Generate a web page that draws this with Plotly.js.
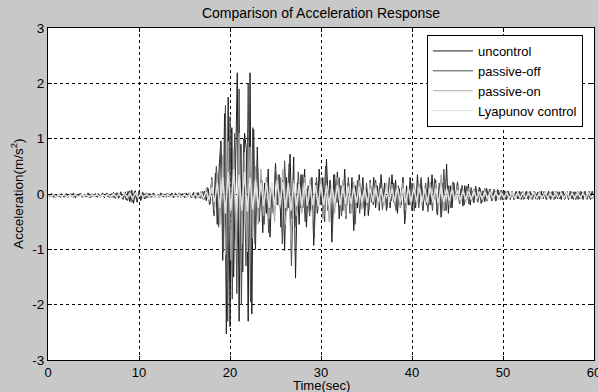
<!DOCTYPE html>
<html>
<head>
<meta charset="utf-8">
<script src="https://cdn.plot.ly/plotly-3.0.1.min.js"></script>
<style>html,body{margin:0;padding:0;background:#c8c8c8;}#chart{width:598px;height:392px;}</style>
</head>
<body>
<div id="chart"></div>
<script>
// sampling steps (s)
const dtUncontrol = 0.2;
const dtPassiveOff = 0.25;
const dtPassiveOn = 0.3;
const dtLyapunov = 0.3;

const seriesNames = ["uncontrol", "passive-off", "passive-on", "Lyapunov control"];

const uncontrol = [
-0.02,-0.05,0.01,-0.06,-0.01, -0.05,0.00,-0.06,-0.02,-0.04, 0.01,-0.06,-0.01,-0.05,0.02, -0.07,0.00,-0.04,0.01,-0.06,
-0.02,-0.05,0.02,-0.07,0.00, -0.05,0.01,-0.06,-0.01,-0.04, 0.02,-0.07,0.01,-0.05,0.00, -0.06,0.03,-0.08,0.02,-0.06,
0.04,-0.09,0.03,-0.11,0.05, -0.14,0.07,-0.17,0.06,-0.15, 0.05,-0.12,0.03,-0.09,0.02, -0.07,0.01,-0.06,0.02,-0.05,
0.00,-0.06,0.02,-0.05,-0.01, -0.06,0.01,-0.05,0.02,-0.07, 0.00,-0.05,0.02,-0.06,0.01, -0.07,0.02,-0.05,0.01,-0.06,
0.03,-0.08,0.02,-0.07,0.04, -0.09,0.05,-0.12,0.10,-0.18, 0.25,-0.35,0.38,-0.55,0.45, 0.96,-1.2,1.45,-2.53,1.75,
-2.4,1.2,-1.5,0.8,2.19, -2.3,0.9,-1.41,1.1,0.8, -2.3,2.19,-2.17,1.17,-1.0, 0.85,-0.5,0.3,-0.7,0.2,
-0.35,0.45,-0.78,0.15,-0.3, 0.55,-0.2,0.35,-0.6,0.25, -1.02,0.3,-0.25,0.72,-0.45, 0.67,-1.52,0.2,-0.55,0.35,
-0.25,0.45,-0.6,0.15,-0.3, 0.3,-0.93,0.2,-0.35,0.45, -0.2,0.3,-0.5,0.63,-0.15, 0.25,-0.87,0.35,-0.2,0.4,
-0.45,0.15,-0.3,0.45,-0.25, 0.2,-0.35,0.3,-0.66,0.15, -0.25,0.35,-0.15,0.3,-0.4, 0.1,-0.39,0.25,-0.15,0.3,
-0.25,0.15,-0.3,0.35,-0.1, 0.2,-0.3,0.1,-0.25,0.35, -0.15,0.25,-0.35,0.1,-0.2, 0.3,-0.54,0.15,-0.2,0.3,
-0.3,0.1,-0.25,0.35,-0.15, 0.25,-0.3,0.1,-0.2,0.3, -0.2,0.35,-0.1,0.25,-0.38, 0.15,-0.42,0.2,-0.3,0.54,
-0.35,0.15,-0.25,0.2,-0.1, 0.22,-0.15,0.1,-0.22,0.15, -0.1,0.18,-0.2,0.05,-0.16, 0.14,-0.08,0.12,-0.17,0.06,
-0.14,0.1,-0.05,0.09,-0.12, 0.04,-0.13,0.08,-0.02,0.07, -0.11,0.06,-0.1,0.05,-0.1, 0.05,-0.1,0.04,-0.09,0.05,
-0.1,0.04,-0.09,0.05,-0.1, 0.04,-0.1,0.05,-0.09,0.03, -0.1,0.05,-0.09,0.04,-0.1, 0.05,-0.09,0.04,-0.1,0.05,
-0.09,0.04,-0.1,0.05,-0.09, 0.04,-0.1,0.05,-0.09,0.04, -0.1,0.05,-0.09,0.04,-0.1, 0.05,-0.09,0.04,-0.1,0.05,
-0.05
];

const passiveOff = [
-0.01,-0.05,0.0,-0.06, -0.02,-0.05,0.01,-0.06, -0.01,-0.05,0.01,-0.06, -0.02,-0.04,0.01,-0.06,
0.0,-0.05,0.01,-0.06, -0.01,-0.05,0.01,-0.06, 0.0,-0.05,0.02,-0.07, 0.01,-0.07,0.02,-0.08,
0.03,-0.1,0.04,-0.12, 0.06,-0.15,0.05,-0.13, 0.04,-0.1,0.02,-0.08, 0.01,-0.06,0.01,-0.06,
0.0,-0.05,0.01,-0.06, 0.01,-0.05,0.0,-0.06, 0.02,-0.06,0.01,-0.05, 0.01,-0.06,0.02,-0.07,
0.02,-0.07,0.03,-0.08, 0.05,-0.1,0.12,-0.2, 0.3,-0.4,0.5,-0.6, 0.9,-1.05,1.6,-2.3,
1.4,-1.9,1.1,-1.8, 1.9,-2.0,1.0,-1.3, 2.0,-1.95,1.2,-0.9, 0.6,-0.4,0.25,-0.55,
0.3,-0.7,0.1,-0.35, 0.45,-0.2,0.3,-0.9, 0.6,-0.3,0.55,-1.3, 0.2,-0.6,0.4,-0.25,
0.35,-0.5,0.1,-0.4, 0.25,-0.8,0.3,-0.2, 0.15,-0.45,0.5,-0.3, 0.2,-0.7,0.35,-0.15,
0.3,-0.4,0.1,-0.45, 0.3,-0.2,0.15,-0.55, 0.25,-0.35,0.1,-0.25, 0.2,-0.3,0.1,-0.2,
0.25,-0.15,0.2,-0.28, 0.1,-0.25,0.3,-0.12, 0.2,-0.3,0.15,-0.25, 0.3,-0.45,0.1,-0.2,
0.2,-0.3,0.12,-0.25, 0.3,-0.15,0.2,-0.32, 0.15,-0.3,0.28,-0.35, 0.2,-0.4,0.45,-0.3,
0.15,-0.25,0.22,-0.1, 0.2,-0.18,0.16,-0.2, 0.14,-0.18,0.12,-0.15, 0.12,-0.15,0.1,-0.14,
0.1,-0.13,0.08,-0.12, 0.09,-0.12,0.07,-0.11, 0.05,-0.1,0.05,-0.09, 0.04,-0.1,0.05,-0.09,
0.04,-0.1,0.04,-0.09, 0.05,-0.09,0.04,-0.1, 0.04,-0.09,0.05,-0.1, 0.04,-0.1,0.05,-0.09,
0.04,-0.09,0.05,-0.1, 0.05,-0.09,0.04,-0.1, 0.04,-0.1,0.05,-0.09, 0.04,-0.1,0.05,-0.09,
-0.04
];

const passiveOn = [
0.0,-0.05,-0.01,-0.06,0.0,-0.05,-0.02,-0.06,0.0,-0.05,
-0.01,-0.06,0.0,-0.05,-0.02,-0.06,0.01,-0.05,-0.01,-0.06,
0.0,-0.05,0.01,-0.06,0.01,-0.07,0.02,-0.08,0.03,-0.09,
0.04,-0.11,0.03,-0.09,0.02,-0.07,0.01,-0.06,0.0,-0.05,
-0.01,-0.06,0.0,-0.05,0.01,-0.06,0.0,-0.05,0.01,-0.06,
0.0,-0.06,0.02,-0.07,0.02,-0.08,0.04,-0.1,0.1,-0.15,
0.25,-0.3,0.4,-0.55,0.7,-1.1,0.95,-1.2,0.8,-1.0,
1.1,-0.9,0.75,-1.05,0.85,-0.8,0.5,-0.55,0.45,-0.4,
0.3,-0.45,0.2,-0.5,0.35,-0.25,0.45,-0.55,0.2,-0.85,
0.25,-0.4,0.15,-0.35,0.3,-0.2,0.28,-0.5,0.15,-0.3,
0.3,-0.45,0.2,-0.5,0.15,-0.35,0.3,-0.2,0.25,-0.4,
0.15,-0.35,0.22,-0.15,0.25,-0.28,0.12,-0.3,0.22,-0.15,
0.2,-0.25,0.1,-0.22,0.2,-0.15,0.18,-0.22,0.1,-0.25,
0.2,-0.3,0.1,-0.22,0.2,-0.12,0.18,-0.22,0.1,-0.2,
0.22,-0.15,0.2,-0.28,0.35,-0.3,0.1,-0.2,0.18,-0.1,
0.15,-0.16,0.08,-0.15,0.1,-0.1,0.1,-0.12,0.05,-0.12,
0.08,-0.11,0.07,-0.1,0.06,-0.1,0.05,-0.09,0.04,-0.09,
0.05,-0.09,0.04,-0.08,0.05,-0.09,0.04,-0.09,0.05,-0.08,
0.04,-0.09,0.05,-0.08,0.04,-0.09,0.05,-0.09,0.04,-0.08,
0.05,-0.09,0.04,-0.08,0.05,-0.09,0.04,-0.09,0.05,-0.08,
-0.03
];

const lyapunov = [
-0.02,-0.04,-0.01,-0.05,-0.02,-0.04,-0.01,-0.05,-0.02,-0.04,
-0.01,-0.05,-0.02,-0.04,-0.01,-0.05,-0.02,-0.04,-0.01,-0.05,
-0.02,-0.04,-0.01,-0.05,0.0,-0.05,0.0,-0.06,0.01,-0.06,
0.01,-0.07,0.01,-0.06,0.0,-0.05,-0.01,-0.05,-0.02,-0.04,
-0.01,-0.05,-0.02,-0.04,-0.01,-0.05,-0.02,-0.04,-0.01,-0.05,
-0.01,-0.05,0.0,-0.05,0.0,-0.06,0.01,-0.07,0.04,-0.1,
0.12,-0.15,0.2,-0.25,0.3,-0.35,0.4,-0.3,0.45,-0.33,
0.35,-0.3,0.4,-0.32,0.3,-0.28,0.25,-0.25,0.2,-0.22,
0.22,-0.25,0.2,-0.22,0.25,-0.2,0.22,-0.25,0.2,-0.3,
0.2,-0.22,0.18,-0.2,0.2,-0.22,0.18,-0.2,0.16,-0.22,
0.18,-0.2,0.16,-0.22,0.15,-0.18,0.16,-0.2,0.14,-0.18,
0.14,-0.18,0.12,-0.16,0.14,-0.15,0.12,-0.16,0.1,-0.14,
0.12,-0.15,0.1,-0.14,0.12,-0.15,0.1,-0.14,0.12,-0.15,
0.1,-0.16,0.12,-0.14,0.1,-0.15,0.12,-0.14,0.1,-0.16,
0.12,-0.15,0.1,-0.16,0.14,-0.15,0.1,-0.12,0.08,-0.12,
0.07,-0.11,0.06,-0.1,0.05,-0.1,0.05,-0.09,0.04,-0.09,
0.04,-0.08,0.03,-0.08,0.03,-0.08,0.02,-0.07,0.02,-0.07,
0.02,-0.07,0.01,-0.07,0.02,-0.07,0.01,-0.06,0.02,-0.07,
0.01,-0.07,0.02,-0.06,0.01,-0.07,0.02,-0.06,0.01,-0.07,
0.02,-0.06,0.01,-0.07,0.02,-0.06,0.01,-0.07,0.02,-0.06,
-0.03
];

const xTicks = [0, 10, 20, 30, 40, 50, 60];
const yTicks = [-3, -2, -1, 0, 1, 2, 3];

function timeAxis(n, dt) { return Array.from({length: n}, (_, i) => +(i * dt).toFixed(3)); }

const colors = ["#1e1e1e", "#4a4a4a", "#a8a8a8", "#e2e2e2"];
const widths = [1, 1, 1, 1.4];
const allY = [uncontrol, passiveOff, passiveOn, lyapunov];
const allDt = [dtUncontrol, dtPassiveOff, dtPassiveOn, dtLyapunov];

const traces = allY.map((y, k) => ({
  type: "scatter", mode: "lines",
  x: timeAxis(y.length, allDt[k]), y: y,
  name: seriesNames[k],
  line: {color: colors[k], width: widths[k]}
}));

const ff = "Liberation Sans, Arial, sans-serif";
const font = {family: ff, size: 13, color: "#000"};

const layout = {
  width: 598, height: 392,
  paper_bgcolor: "#c8c8c8", plot_bgcolor: "#ffffff",
  margin: {l: 48, r: 4, t: 28, b: 32},
  font: font,
  showlegend: true,
  title: {text: "Comparison of Acceleration Response", font: {family: ff, size: 14, color: "#000"}, x: 0.5, xref: "paper", y: 0.967, yref: "container", yanchor: "middle"},
  xaxis: {
    range: [0, 60], tickvals: xTicks, ticktext: xTicks.map(String),
    showgrid: true, gridcolor: "#000", griddash: "dot", gridwidth: 1,
    zeroline: false, showline: true, mirror: "ticks", linecolor: "#000", linewidth: 1,
    ticks: "inside", ticklen: 4, tickcolor: "#000", tickfont: font,
    ticklabeloverflow: "allow"
  },
  yaxis: {
    range: [-3, 3], tickvals: yTicks, ticktext: yTicks.map(String),
    showgrid: true, gridcolor: "#000", griddash: "dot", gridwidth: 1,
    zeroline: false, showline: true, mirror: "ticks", linecolor: "#000", linewidth: 1,
    ticks: "inside", ticklen: 4, tickcolor: "#000", tickfont: {family: ff, size: 13.5, color: "#000"},
    ticklabeloverflow: "allow"
  },
  legend: {
    x: 0.694, y: 0.979, xanchor: "left", yanchor: "top",
    bgcolor: "#ffffff", bordercolor: "#000", borderwidth: 1,
    font: {family: ff, size: 13, color: "#000"}, tracegroupgap: 0, itemwidth: 40
  },
  annotations: [
    {text: "Acceleration(m/s<sup>2</sup>)", xref: "paper", yref: "paper", x: -0.057, y: 0.5,
     textangle: -90, showarrow: false, font: {family: ff, size: 13.5, color: "#000"}, xanchor: "center", yanchor: "middle"},
    {text: "Time(sec)", xref: "paper", yref: "paper", x: 0.5, y: -0.076,
     showarrow: false, font: font, xanchor: "center", yanchor: "middle"}
  ]
};

Plotly.newPlot("chart", traces, layout, {displayModeBar: false, staticPlot: true});
</script>
</body>
</html>
